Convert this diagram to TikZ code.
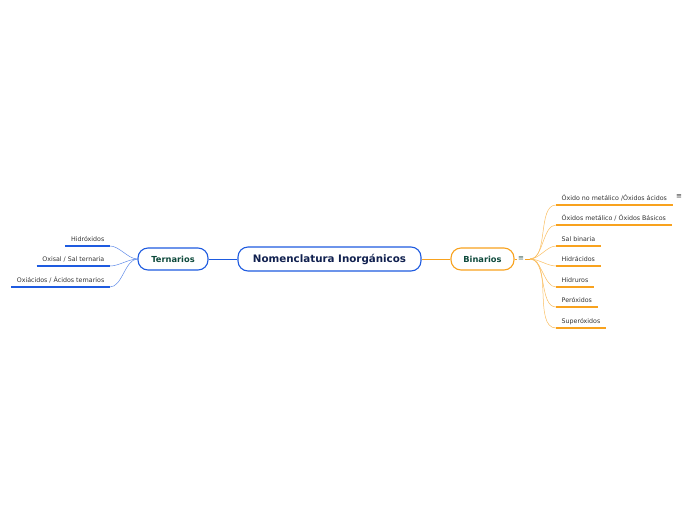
\documentclass[tikz,border=0pt]{standalone}
\usepackage{fontspec}
\setmainfont{DejaVu Sans}
\definecolor{mapblue}{HTML}{1E5BE0}
\definecolor{maporange}{HTML}{F8A21E}
\definecolor{mapnavy}{HTML}{10204F}
\definecolor{mapgreen}{HTML}{0E4A3C}
\definecolor{leaftext}{HTML}{333333}
\begin{document}
\begin{tikzpicture}[x=1pt, y=-1pt,
  topic/.style={draw=#1, line width=1.1pt, rounded corners=10pt, fill=white,
    minimum height=22pt, inner sep=0pt, font=\bfseries\fontsize{8.3}{9}\selectfont, text=mapgreen},
  leaf/.style={inner xsep=5.5pt, inner ysep=4pt, text depth=0pt, anchor=south west,
    font=\fontsize{6.3}{7}\selectfont, text=leaftext,
    append after command={(\tikzlastnode.south west) edge[draw=#1, line width=1.6pt]
      (\tikzlastnode.south east)}},
  leafL/.style={leaf=#1, anchor=south east},
  menu/.style={inner sep=0.5pt, font=\fontsize{7}{7}\selectfont},
  link/.style={draw=#1, line width=0.5pt}]
\useasboundingbox (0,0) rectangle (696,520);
% centro
\node[topic=mapblue, minimum width=183pt, minimum height=24pt, text=mapnavy,
  font=\bfseries\fontsize{10.3}{11}\selectfont] (nomen) at (329.5,259) {Nomenclatura Inorgánicos};
\node[topic=mapblue, minimum width=70pt] (tern) at (173,259) {Ternarios};
\node[topic=maporange, minimum width=63pt] (bin) at (482.5,259) {Binarios};
\draw[link=mapblue, line width=0.8pt] (nomen.west) -- (tern.east);
\draw[link=maporange, line width=0.8pt] (nomen.east) -- (bin.west);
% Binarios
\node[menu, text=mapgreen!60!gray] (binmenu) at (521,259) {≡};
\coordinate (binfork) at (530,259);
\draw[link=maporange, line width=0.8pt] (bin.east) -- (binmenu.west);
\draw[link=maporange, line width=0.8pt] (binmenu.east) -- (binfork);
\node[leaf=maporange] (bin1) at (556,205) {Óxido no metálico /Óxidos ácidos};
\node[leaf=maporange] (bin2) at (556,225) {Óxidos metálico / Óxidos Básicos};
\node[leaf=maporange] (bin3) at (556,246) {Sal binaria};
\node[leaf=maporange] (bin4) at (556,266) {Hidrácidos};
\node[leaf=maporange] (bin5) at (556,287) {Hidruros};
\node[leaf=maporange] (bin6) at (556,307) {Peróxidos};
\node[leaf=maporange] (bin7) at (556,328) {Superóxidos};
\node[menu, text=leaftext] (bin1menu) at (679,197) {≡};
\foreach \k in {1,...,7}
  \draw[link=maporange!70] (binfork) to[out=0, in=180, looseness=0.8] (bin\k.south west);
% Ternarios
\node[leafL=mapblue] (tern1) at (110,246) {Hidróxidos};
\node[leafL=mapblue] (tern2) at (110,266) {Oxisal / Sal ternaria};
\node[leafL=mapblue] (tern3) at (110,287) {Oxiácidos / Ácidos ternarios};
\foreach \k in {1,2,3}
  \draw[link=mapblue!70] (tern.west) to[out=180, in=0, looseness=0.8] (tern\k.south east);
\end{tikzpicture}
\end{document}
